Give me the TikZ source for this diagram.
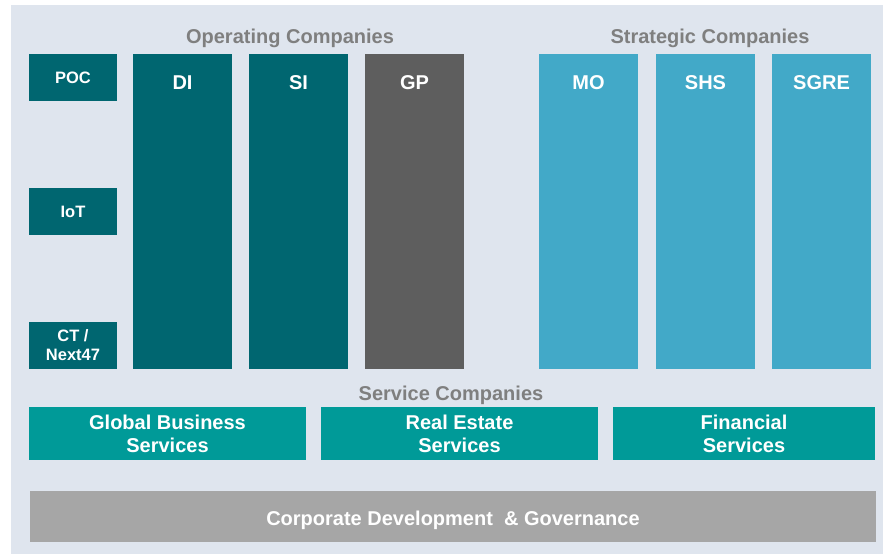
\documentclass[tikz,border=0pt]{standalone}
\usepackage{fontspec}
\setmainfont{Liberation Sans}
\usetikzlibrary{positioning}
\definecolor{panelbg}{HTML}{DFE5EE}
\definecolor{opteal}{HTML}{006670}
\definecolor{gpgray}{HTML}{5E5E5E}
\definecolor{stblue}{HTML}{42A9C8}
\definecolor{svteal}{HTML}{009A98}
\definecolor{corpgray}{HTML}{A6A6A6}
\definecolor{titlegray}{HTML}{7F7F7F}
\tikzstyle{unit} = [rectangle, inner sep=0pt, outer sep=0pt, text=white, align=center]
\tikzstyle{small} = [unit, fill=opteal, minimum width=88pt, minimum height=47pt, font=\bfseries\fontsize{16.5}{19}\selectfont]
\tikzstyle{tall} = [unit, minimum width=99pt, minimum height=315pt, text height=35.5pt, text depth=279.5pt, font=\bfseries\fontsize{20}{24}\selectfont]
\tikzstyle{opco} = [tall, fill=opteal]
\tikzstyle{stratco} = [tall, fill=stblue]
\tikzstyle{service} = [unit, fill=svteal, minimum height=53pt, font=\bfseries\fontsize{20}{23}\selectfont]
\tikzstyle{corporate} = [unit, fill=corpgray, minimum width=846pt, minimum height=51pt, text height=34.7pt, text depth=16.3pt, font=\bfseries\fontsize{20}{24}\selectfont]
\tikzstyle{grouptitle} = [inner sep=0pt, anchor=base, text=titlegray, font=\bfseries\fontsize{20}{24}\selectfont]

\begin{document}
\begin{tikzpicture}[x=1pt, y=1pt, node distance=17pt]
\useasboundingbox (0,0) rectangle (883,-554);
\fill[panelbg] (11,-5) rectangle (883,-554);

% Operating
\node (optitle) [grouptitle] at (290,-43) {Operating Companies};
\node (poc) [small, anchor=north west] at (29,-54) {POC};
\node (iot) [small, below=87pt of poc] {IoT};
\node (ct) [small, below=87pt of iot] {CT /\\Next47};
\node (di) [opco, right=16pt of poc.north east, anchor=north west] {DI};
\node (si) [opco, right=of di] {SI};
\node (gp) [opco, right=of si, fill=gpgray] {GP};

% Strategic
\node (sttitle) [grouptitle] at (710,-43) {Strategic Companies};
\node (mo) [stratco, right=75pt of gp] {MO};
\node (shs) [stratco, right=18pt of mo] {SHS};
\node (sgre) [stratco, right=of shs] {SGRE};

% Service
\node (svtitle) [grouptitle] at (451,-400.5) {Service Companies};
\node (gbs) [service, minimum width=277pt, anchor=north west] at (29,-407) {Global Business\\Services};
\node (res) [service, minimum width=277pt, right=15pt of gbs] {Real Estate\\Services};
\node (fs) [service, minimum width=262pt, right=15pt of res] {Financial\\Services};

% Corporate
\node (corp) [corporate, anchor=north west] at (30,-491) {Corporate Development\ \ \& Governance};

\end{tikzpicture}
\end{document}
